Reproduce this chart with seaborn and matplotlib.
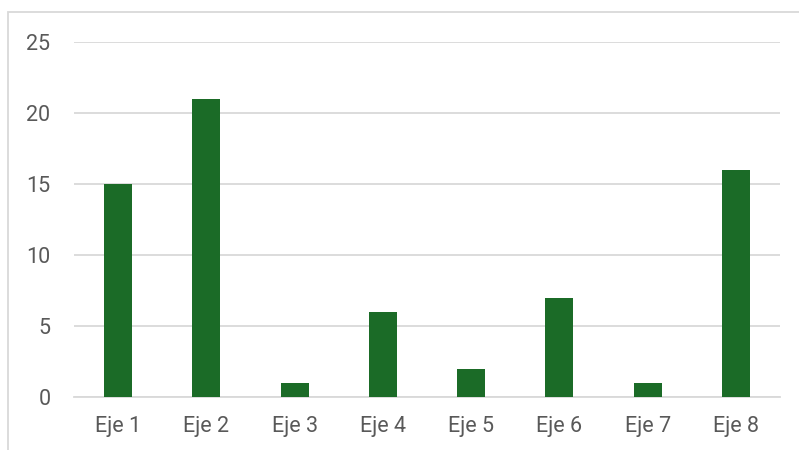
import matplotlib
matplotlib.use("Agg")
import matplotlib.pyplot as plt
import seaborn as sns
import pandas as pd
from matplotlib.patches import Rectangle

# Data
categories = ["Eje 1", "Eje 2", "Eje 3", "Eje 4", "Eje 5", "Eje 6", "Eje 7", "Eje 8"]
values = [15, 21, 1, 6, 2, 7, 1, 16]
y_ticks = [0, 5, 10, 15, 20, 25]

BAR_COLOR = "#1B6B27"
TEXT_COLOR = "#595959"
GRID_COLOR = "#D9D9D9"

sns.set_style("white")
plt.rcParams["font.family"] = ["Roboto", "DejaVu Sans"]

df = pd.DataFrame({"eje": categories, "valor": values})

fig = plt.figure(figsize=(7.99, 4.5), dpi=100)
ax = fig.add_axes([74 / 799, 53 / 450, 706 / 799, 355 / 450])

sns.barplot(data=df, x="eje", y="valor", color=BAR_COLOR, width=0.317,
            saturation=1, linewidth=0, ax=ax, zorder=3)

ax.set_ylim(0, 25)
ax.set_yticks(y_ticks)
ax.yaxis.grid(True, color=GRID_COLOR, linewidth=1.3, zorder=0)
ax.set_xlabel("")
ax.set_ylabel("")
for side in ["top", "right", "left"]:
    ax.spines[side].set_visible(False)
ax.spines["bottom"].set_color(GRID_COLOR)
ax.spines["bottom"].set_linewidth(1.3)
ax.tick_params(axis="both", length=0, labelsize=15.5, colors=TEXT_COLOR)
ax.tick_params(axis="y", pad=17)
ax.tick_params(axis="x", pad=14)

# light chart frame, cropped at the right and bottom of the image
fig.patches.append(Rectangle((8 / 799, -0.1), 1.2, (450 - 12) / 450 + 0.1,
                             transform=fig.transFigure, fill=False,
                             edgecolor=GRID_COLOR, linewidth=1.3))

fig.savefig("out.png", dpi=100)
